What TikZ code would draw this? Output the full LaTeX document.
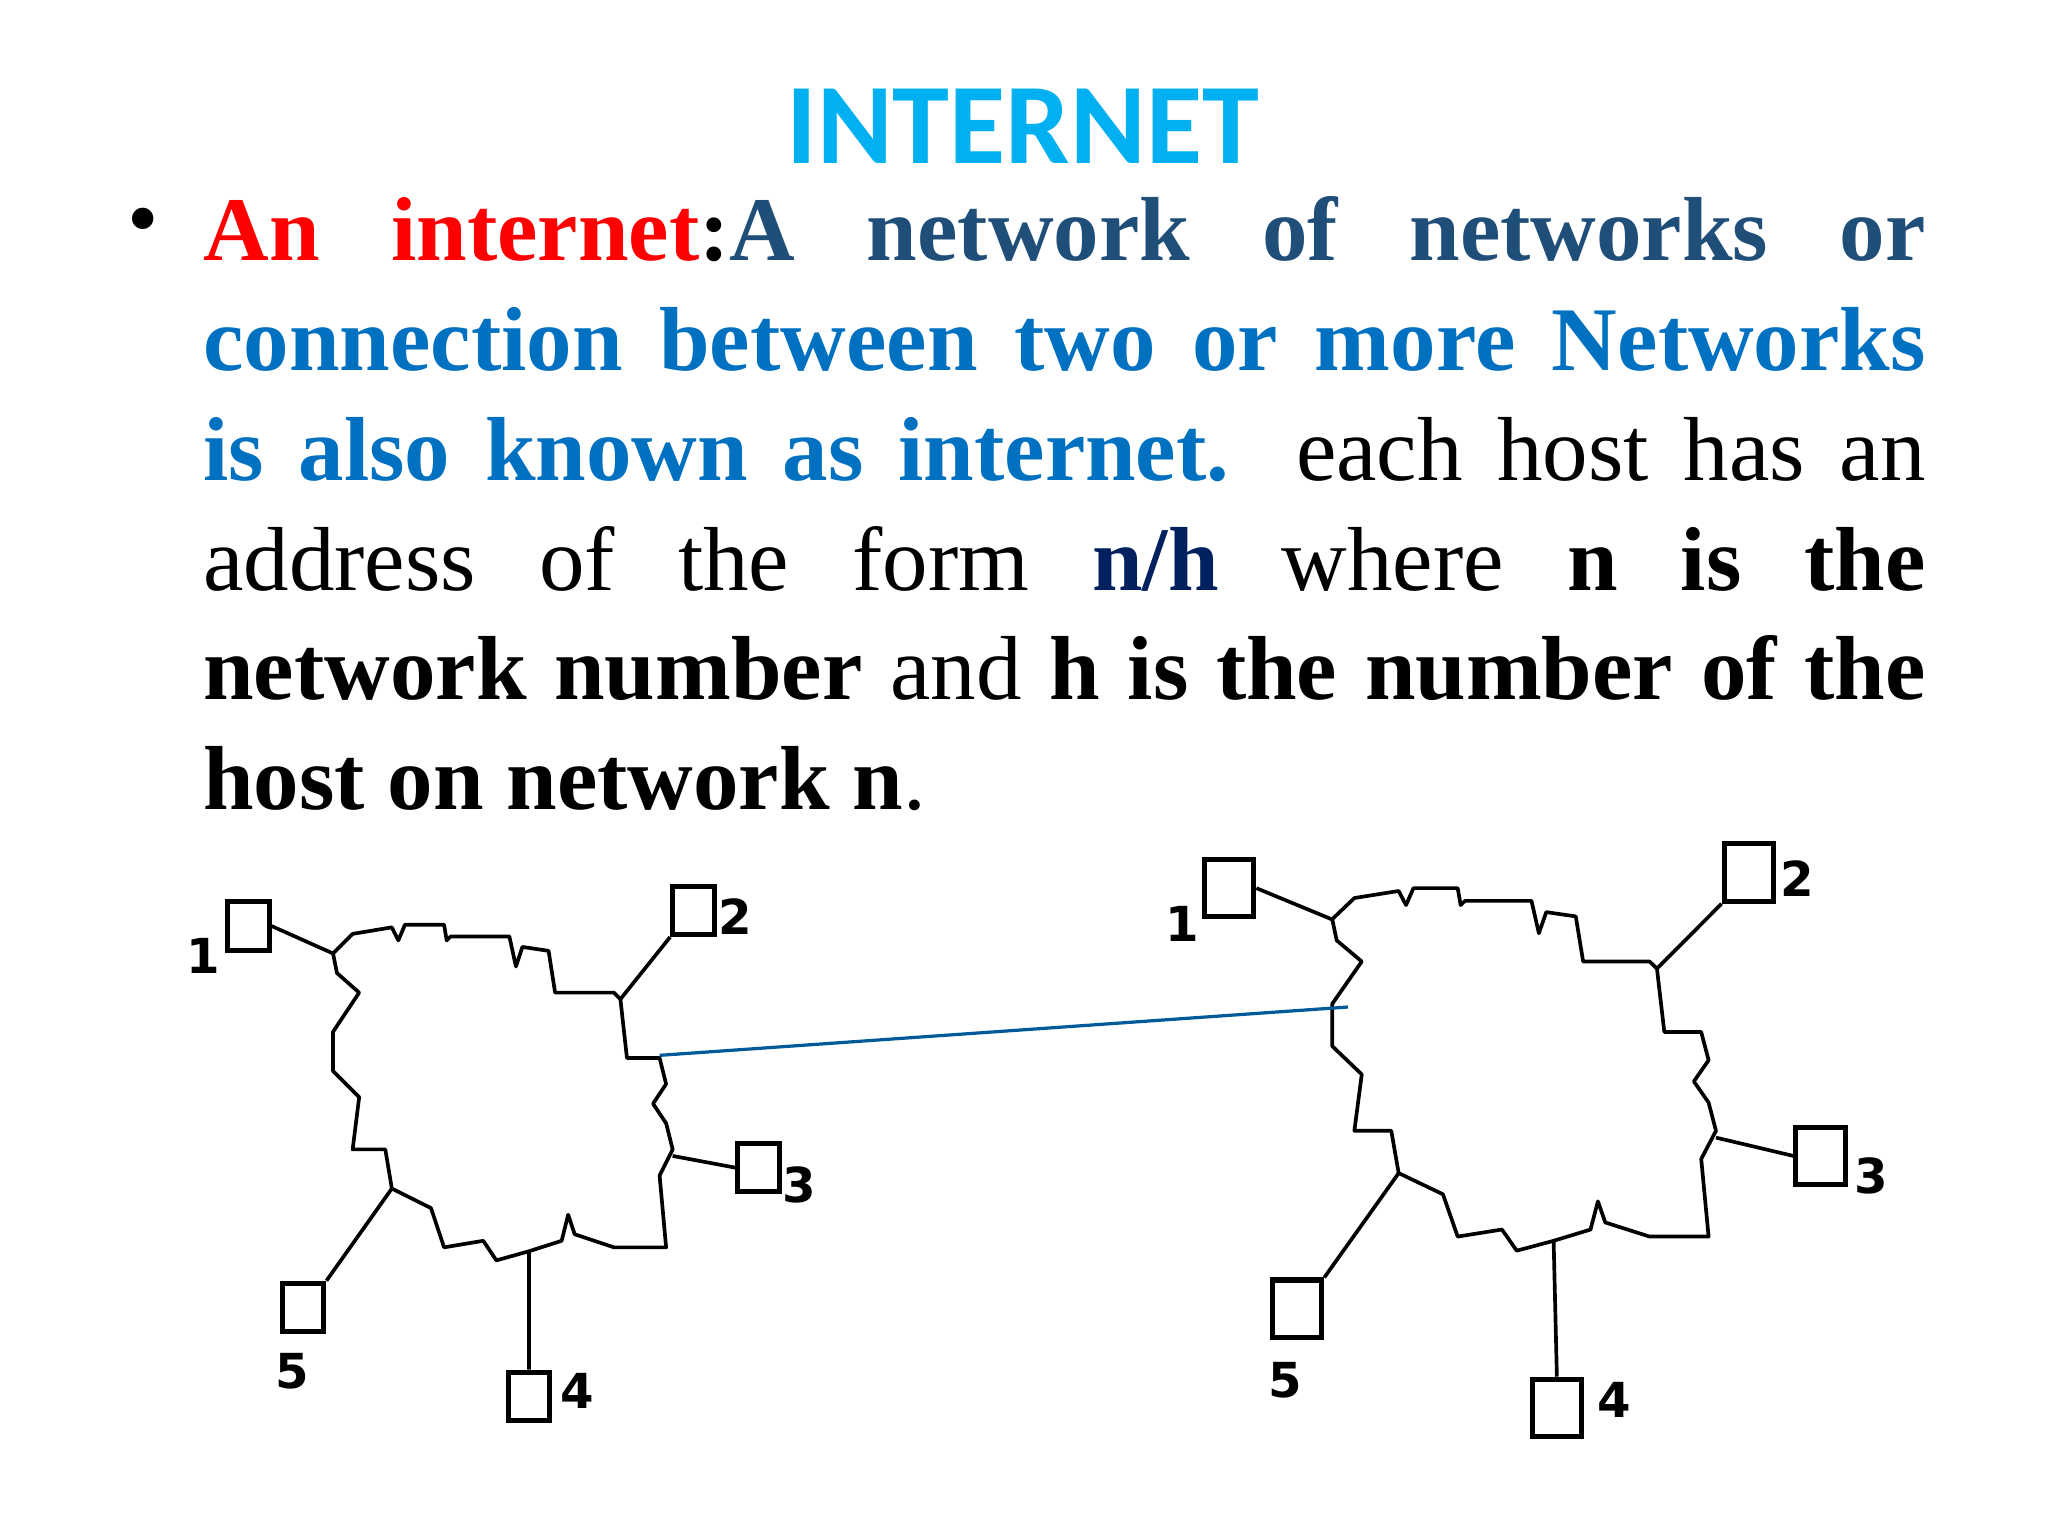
\documentclass[tikz,border=0pt]{standalone}
\usepackage{fontspec}
\setmainfont{Liberation Serif}
\newfontfamily\titlefont{Carlito}
\newfontfamily\lblfont{DejaVu Sans}
\begin{document}
\begin{tikzpicture}[x=0.01cm,y=-0.01cm]
\definecolor{ttl}{RGB}{0,176,240}
\definecolor{dblue}{RGB}{31,78,121}
\definecolor{mblue}{RGB}{0,112,192}
\definecolor{navy}{RGB}{0,32,96}
\tikzset{host/.style={draw,line width=1.1pt,minimum width=0.32cm,minimum height=0.37cm,inner sep=0pt},
 hl/.style={font=\lblfont\bfseries\fontsize{10.5}{11}\selectfont,inner sep=0pt},
 cl/.style={line width=0.8pt,line join=round}}
\useasboundingbox (0,0) rectangle (1568,1176);
\node[font=\titlefont\bfseries\fontsize{25}{25}\selectfont,text=ttl] (title) at (783,97) {INTERNET};
\node (bul) at (110,175) {\fontsize{19.5}{24}\selectfont\textbullet};
\node[anchor=north west,inner sep=0pt,text width=13.18cm,align=justify,font=\fontsize{19.8}{23.9}\selectfont] (para) at (155,150)
{\hyphenpenalty=10000\relax
\textcolor{red}{\textbf{An internet}}\textbf{:}\textcolor{dblue}{\textbf{A network of networks or}}\linebreak
\textcolor{mblue}{\textbf{connection between two or more Networks}}\linebreak
\textcolor{mblue}{\textbf{is also known as internet.}} each host has an\linebreak
address of the form \textcolor{navy}{\textbf{n/h}} where \textbf{n is the}\linebreak
\textbf{network number} and \textbf{h is the number of the}\linebreak
\textbf{host on network n}.};
% left cloud
\def\cloud{(255,730) -- (270,715) -- (300,710) -- (305,720) -- (310,708) -- (340,708) -- (342,720) -- (345,717) -- (390,717) -- (395,740) -- (400,725) -- (420,728) -- (425,760) -- (470,760) -- (475,765) -- (480,810) -- (505,810) -- (510,830) -- (500,845) -- (510,860) -- (515,880) -- (505,900) -- (510,955) -- (470,955) -- (440,945) -- (435,930) -- (430,950) -- (405,958) -- (380,965) -- (370,950) -- (340,955) -- (330,925) -- (320,920) -- (300,910) -- (295,880) -- (270,880) -- (275,840) -- (255,820) -- (255,790) -- (265,775) -- (275,760) -- (258,745) -- cycle}
\draw[cl] \cloud;
\begin{scope}[shift={(1020,680)},xscale=1.13,yscale=1.08,shift={(-255,-708)}]
\draw[cl] \cloud;
\end{scope}
% left hosts
\node[host] (a1) at (190,709) {}; \node[hl] at (156,732) {1};
\node[host] (a2) at (531,697) {}; \node[hl] at (563,702) {2};
\node[host] (a3) at (581,894) {}; \node[hl] at (612,907) {3};
\node[host] (a4) at (405,1069) {}; \node[hl] at (442,1065) {4};
\node[host] (a5) at (232,1001) {}; \node[hl] at (224,1050) {5};
\coordinate (c1) at (255,730); \coordinate (c2) at (475,765); \coordinate (c3) at (515,885);
\coordinate (c4) at (405,958); \coordinate (c5) at (300,910);
\draw[line width=0.8pt] (a1.east) -- (c1) (a2.south west) -- (c2) (a3.west) -- (c3) (a4.north) -- (c4) (a5.north east) -- (c5);
% right hosts
\node[host,minimum width=0.38cm,minimum height=0.44cm] (b1) at (941,680) {}; \node[hl] at (905,707) {1};
\node[host,minimum width=0.38cm,minimum height=0.44cm] (b2) at (1339,668) {}; \node[hl] at (1376,673) {2};
\node[host,minimum width=0.38cm,minimum height=0.44cm] (b3) at (1394,885) {}; \node[hl] at (1433,900) {3};
\node[host,minimum width=0.38cm,minimum height=0.44cm] (b4) at (1192,1078) {}; \node[hl] at (1236,1072) {4};
\node[host,minimum width=0.38cm,minimum height=0.44cm] (b5) at (993,1002) {}; \node[hl] at (984,1057) {5};
\coordinate (d1) at (1020,704); \coordinate (d2) at (1268.6,741.6); \coordinate (d3) at (1313.8,871);
\coordinate (d4) at (1189.5,950); \coordinate (d5) at (1071,898);
\draw[line width=0.8pt] (b1.east) -- (d1) (b2.south west) -- (d2) (b3.west) -- (d3) (b4.north) -- (d4) (b5.north east) -- (d5);
\coordinate (l) at (505,808); \coordinate (r) at (1032,771);
\draw[color=mblue!80!black,line width=0.7pt] (l) -- (r);
\end{tikzpicture}
\end{document}
